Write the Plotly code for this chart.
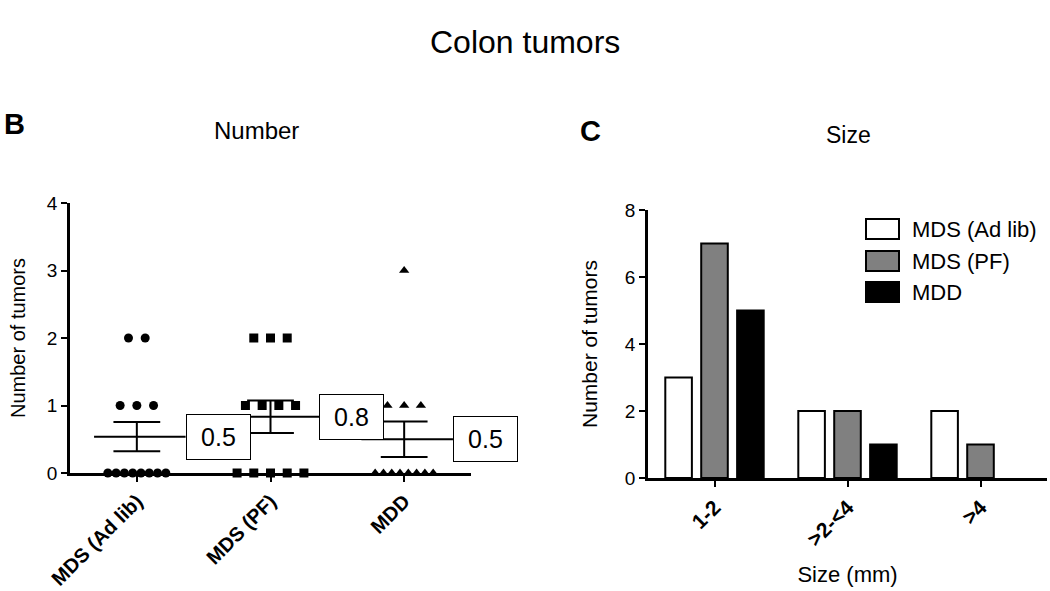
import numpy as np
import plotly.graph_objects as go

# ---------------- data ----------------
group_labels = ["MDS (Ad lib)", "MDS (PF)", "MDD"]
adlib_counts = [2, 2, 1, 1, 1, 0, 0, 0, 0, 0, 0, 0, 0]
pf_counts = [2, 2, 2, 1, 1, 1, 1, 0, 0, 0, 0, 0]
mdd_counts = [3, 1, 1, 1, 0, 0, 0, 0, 0, 0, 0, 0]
group_symbols = ["circle", "square", "triangle-up"]

size_cats = ["1-2", ">2-<4", ">4"]
adlib_size = [3, 2, 2]
pf_size = [7, 2, 1]
mdd_size = [5, 1, 0]
size_series = ["MDS (Ad lib)", "MDS (PF)", "MDD"]
size_colors = ["white", "#808080", "black"]

W, H = 1050, 591
FONT = "Liberation Sans, Arial, sans-serif"


def px(x):
    return x / W


def py(y):
    return 1 - y / H


fig = go.Figure()

# ---------------- panel B: scatter ----------------
groups = [adlib_counts, pf_counts, mdd_counts]
for gi, vals in enumerate(groups):
    vals = np.array(vals)
    xs, ys = [], []
    for v in sorted(set(vals.tolist()), reverse=True):
        k = int((vals == v).sum())
        sp = 0.125 if k <= 5 else 0.062
        for i in range(k):
            xs.append(gi + (i - (k - 1) / 2) * sp)
            ys.append(v)
    fig.add_trace(go.Scatter(
        x=xs, y=ys, mode="markers", cliponaxis=False, showlegend=False,
        marker=dict(symbol=group_symbols[gi], size=9,
                    color="black", line=dict(width=0)),
        xaxis="x", yaxis="y"))
    mean = vals.mean()
    sem = vals.std(ddof=1) / np.sqrt(len(vals))
    lx = [gi - 0.32, gi + 0.365, None,
          gi, gi, None,
          gi - 0.175, gi + 0.175, None,
          gi - 0.175, gi + 0.175]
    ly = [mean, mean, None,
          mean - sem, mean + sem, None,
          mean + sem, mean + sem, None,
          mean - sem, mean - sem]
    fig.add_trace(go.Scatter(x=lx, y=ly, mode="lines", showlegend=False,
                             cliponaxis=False,
                             line=dict(color="black", width=2),
                             xaxis="x", yaxis="y"))
    fig.add_annotation(x=gi + 0.365, y=mean, xref="x", yref="y",
                       text=f"{mean:.1f}", showarrow=False,
                       xanchor="left", yanchor="middle",
                       width=61, height=42, bgcolor="white",
                       bordercolor="black", borderwidth=1,
                       font=dict(size=25, color="black", family=FONT))

# ---------------- panel C: bars ----------------
for name, vals, col in zip(size_series, [adlib_size, pf_size, mdd_size], size_colors):
    fig.add_trace(go.Bar(x=size_cats, y=vals, name=name, showlegend=False,
                         marker=dict(color=col,
                                     line=dict(color="black",
                                               width=[2 if v > 0 else 0 for v in vals])),
                         xaxis="x2", yaxis="y2"))

# manual legend
leg_rows = [229, 261, 292]
for name, col, yc in zip(size_series, size_colors, leg_rows):
    fig.add_shape(type="rect", xref="paper", yref="paper",
                  x0=px(866), x1=px(899), y0=py(yc + 10), y1=py(yc - 10),
                  fillcolor=col, line=dict(color="black", width=2))
    fig.add_annotation(x=px(910), y=py(yc), xref="paper", yref="paper",
                       text=name, showarrow=False, xanchor="left", yanchor="middle",
                       font=dict(size=22, color="black", family=FONT))

axis_common = dict(showline=True, linecolor="black", linewidth=2.5,
                   ticks="outside", tickcolor="black", tickwidth=2, ticklen=6,
                   showgrid=False, zeroline=False, automargin=False,
                   tickfont=dict(size=19, color="black", family=FONT))

fig.update_layout(
    width=W, height=H,
    margin=dict(l=0, r=0, t=0, b=0, autoexpand=False),
    paper_bgcolor="white", plot_bgcolor="white",
    barmode="group", bargap=0.19, bargroupgap=0.26,
    font=dict(family=FONT, color="black"),
    xaxis=dict(domain=[px(70), px(471)], range=[-0.5, 2.5],
               tickvals=[0, 1, 2], ticktext=group_labels, tickangle=-45,
               anchor="y", **{**axis_common,
                              "tickfont": dict(size=20, color="black", family=FONT, weight="bold")}),
    yaxis=dict(domain=[py(473), py(203)], range=[0, 4], dtick=1,
               anchor="x", title=dict(text="Number of tumors", standoff=16,
                                      font=dict(size=20, family=FONT)),
               **axis_common),
    xaxis2=dict(domain=[px(648), px(1047)], range=[-0.5, 2.5], tickangle=-45,
                anchor="y2", title=dict(text="Size (mm)", standoff=18,
                                        font=dict(size=22, family=FONT)),
                **{**axis_common,
                   "tickfont": dict(size=21, color="black", family=FONT, weight="bold")}),
    yaxis2=dict(domain=[py(478), py(210)], range=[0, 8], dtick=2,
                anchor="x2", title=dict(text="Number of tumors", standoff=22,
                                        font=dict(size=21, family=FONT)),
                **axis_common),
)

# titles and panel labels
fig.add_annotation(x=0.5, y=py(42), xref="paper", yref="paper", text="Colon tumors",
                   showarrow=False, font=dict(size=32, family=FONT),
                   xanchor="center", yanchor="middle")
fig.add_annotation(x=px(2), y=py(124), xref="paper", yref="paper", text="<b>B</b>",
                   showarrow=False, xanchor="left", yanchor="middle",
                   font=dict(size=29, family=FONT))
fig.add_annotation(x=px(256), y=py(130), xref="paper", yref="paper", text="Number",
                   showarrow=False, xanchor="center", yanchor="middle",
                   font=dict(size=24, family=FONT))
fig.add_annotation(x=px(578), y=py(131), xref="paper", yref="paper", text="<b>C</b>",
                   showarrow=False, xanchor="left", yanchor="middle",
                   font=dict(size=29, family=FONT))
fig.add_annotation(x=px(848), y=py(135), xref="paper", yref="paper", text="Size",
                   showarrow=False, xanchor="center", yanchor="middle",
                   font=dict(size=23, family=FONT))

fig.write_html("out.html", config={"displayModeBar": False},
               post_script="document.body.style.margin='0';"
                           "document.body.style.overflow='hidden';")
